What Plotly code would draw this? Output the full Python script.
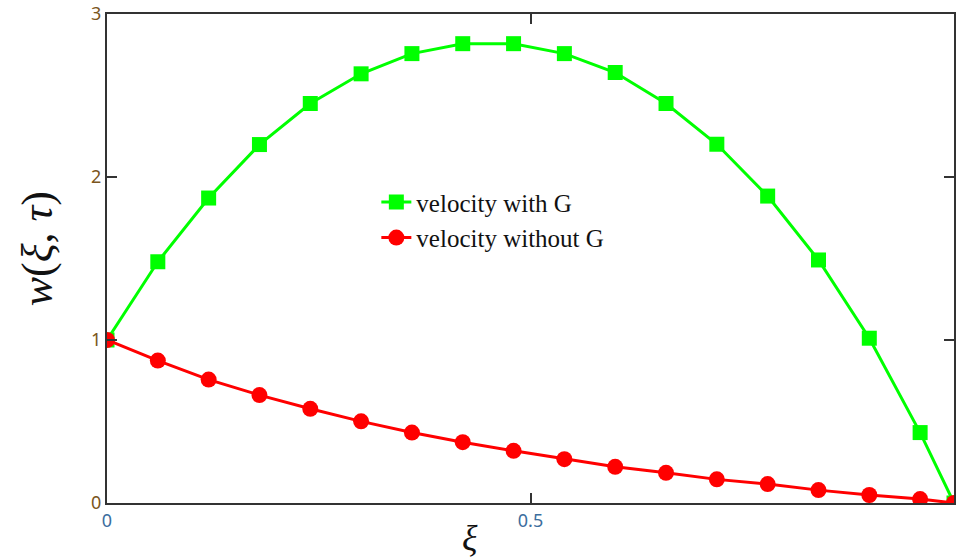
import plotly.graph_objects as go

# data
xi = [0.0, 0.06, 0.12, 0.18, 0.24, 0.30, 0.36, 0.42, 0.48, 0.54, 0.60,
      0.66, 0.72, 0.78, 0.84, 0.90, 0.96, 1.0]
w_with_G = [1.0, 1.480, 1.871, 2.199, 2.451, 2.633, 2.757, 2.818, 2.818,
            2.757, 2.641, 2.451, 2.201, 1.883, 1.491, 1.011, 0.432, 0.0]
w_without_G = [1.0, 0.874, 0.757, 0.662, 0.578, 0.501, 0.432, 0.373, 0.320,
               0.269, 0.222, 0.185, 0.145, 0.116, 0.079, 0.049, 0.024, 0.0]
x_ticks = [0, 0.5]
x_tick_text = ["0", "0.5"]
y_ticks = [0, 1, 2, 3]
y_tick_text = ["0", "1", "2", "3"]
names = ["velocity with G", "velocity without G"]

fig = go.Figure()
fig.add_trace(go.Scatter(
    x=xi, y=w_with_G, mode="lines+markers", name=names[0],
    line=dict(color="#00ff00", width=3),
    marker=dict(symbol="square", size=15, color="#00ff00"),
))
fig.add_trace(go.Scatter(
    x=xi, y=w_without_G, mode="lines+markers", name=names[1],
    line=dict(color="#ff0000", width=3),
    marker=dict(symbol="circle", size=16, color="#ff0000"),
))

fig.update_layout(
    width=957, height=560,
    margin=dict(l=107, r=1, t=12, b=57),
    paper_bgcolor="white", plot_bgcolor="white",
    showlegend=True,
    legend=dict(
        x=0.318, y=0.662, xanchor="left", yanchor="top",
        bgcolor="rgba(0,0,0,0)",
        font=dict(family="Liberation Serif", size=25, color="#111111"),
        tracegroupgap=0,
    ),
    xaxis=dict(
        range=[0, 1], tickvals=x_ticks, ticktext=x_tick_text,
        ticks="inside", ticklen=10, tickwidth=1.5, tickcolor="#333333",
        showline=True, linecolor="#333333", linewidth=2, mirror="ticks",
        showgrid=False, zeroline=False, ticklabeloverflow="allow",
        tickfont=dict(family="Noto Sans", size=18, color="#3c6e9e"),
    ),
    yaxis=dict(
        range=[0, 3], tickvals=y_ticks, ticktext=y_tick_text,
        ticks="inside", ticklen=10, tickwidth=1.5, tickcolor="#333333",
        showline=True, linecolor="#333333", linewidth=2, mirror="ticks",
        showgrid=False, zeroline=False, ticklabeloverflow="allow",
        tickfont=dict(family="Noto Sans", size=18, color="#7a5520"),
    ),
    annotations=[
        dict(text="<i>w</i>(<i>ξ</i>, <i>τ</i>)", xref="paper", yref="paper",
             x=-0.082, y=0.52, xanchor="center", yanchor="middle",
             textangle=-90, showarrow=False,
             font=dict(family="Liberation Serif", size=44, color="#111111")),
        dict(text="<i>ξ</i>", xref="paper", yref="paper",
             x=0.428, y=-0.072, xanchor="center", yanchor="middle",
             showarrow=False,
             font=dict(family="Liberation Serif", size=36, color="#111111")),
    ],
)

fig.write_html("out.html")
